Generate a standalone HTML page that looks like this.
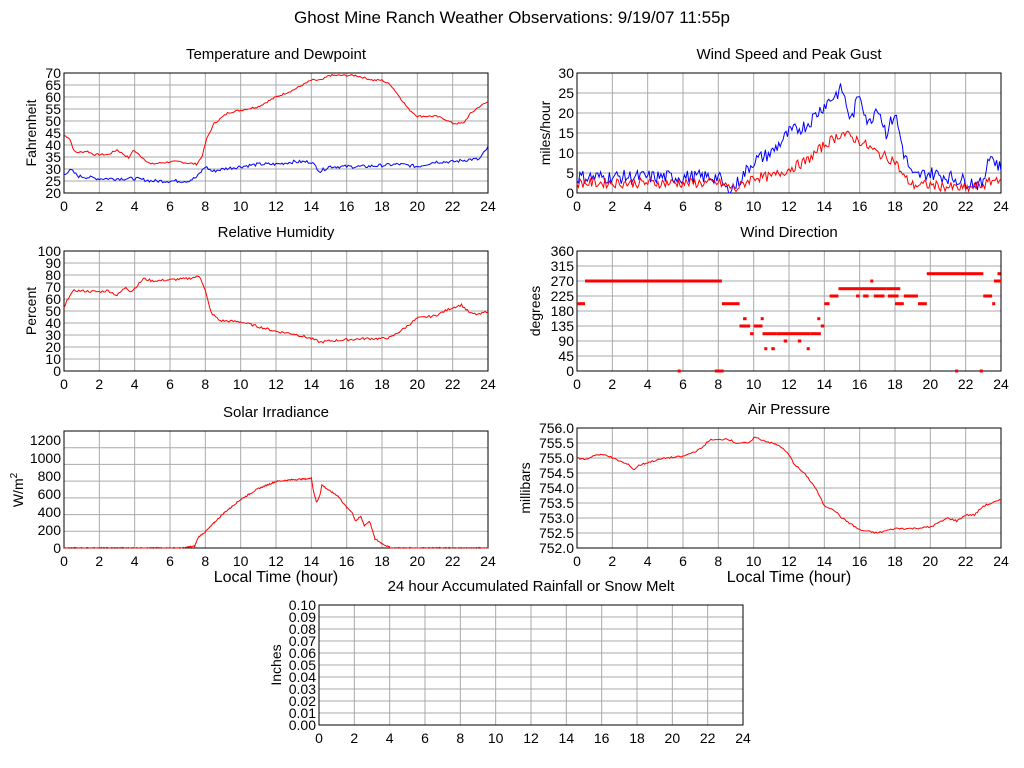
<!DOCTYPE html>
<html><head><meta charset="utf-8"><style>
html,body{margin:0;padding:0;background:#fff;}
svg{display:block;font-family:"Liberation Sans",sans-serif;}
</style></head><body>
<svg id="s" width="1024" height="768" xmlns="http://www.w3.org/2000/svg">
<text x="512" y="23" font-size="17" text-anchor="middle">Ghost Mine Ranch Weather Observations: 9/19/07 11:55p</text>
</svg>
<script>
var S=document.getElementById('s'),out='';
var seed=7;function rnd(){seed=(seed*9301+49297)%233280;return seed/233280;}
function panel(o){
 var g='';var W=o.x1-o.x0,H=o.y1-o.y0;
 for(var h=2;h<24;h+=2){var x=o.x0+W*h/24;g+='<line x1="'+x+'" y1="'+o.y0+'" x2="'+x+'" y2="'+o.y1+'" stroke="#aaa"/>';}
 var n=Math.round((o.vmax-o.vmin)/o.step);
 for(var i=0;i<=n;i++){var v=o.vmin+i*o.step;var y=o.y1-H*i/n;
  if(i>0&&i<n)g+='<line x1="'+o.x0+'" y1="'+y+'" x2="'+o.x1+'" y2="'+y+'" stroke="#aaa"/>';
  if(o.labels!==false)g+='<text x="'+(o.x0-3)+'" y="'+(y+5)+'" font-size="14" text-anchor="end">'+o.fmt(v)+'</text>';}
 for(var h=0;h<=24;h+=2){var x=o.x0+W*h/24;g+='<text x="'+x+'" y="'+(o.y1+18)+'" font-size="14" text-anchor="middle">'+h+'</text>';}
 g+='<rect x="'+o.x0+'" y="'+o.y0+'" width="'+W+'" height="'+H+'" fill="none" stroke="#000"/>';
 g+='<text x="'+((o.x0+o.x1)/2)+'" y="'+(o.y0-14)+'" font-size="15" text-anchor="middle">'+o.title+'</text>';
 var cy=(o.y0+o.y1)/2;g+='<text transform="translate('+o.yl+','+cy+') rotate(-90)" font-size="14" text-anchor="middle">'+o.ylab+'</text>';
 if(o.xl)g+='<text x="'+((o.x0+o.x1)/2)+'" y="'+(o.y1+34)+'" font-size="16" text-anchor="middle">Local Time (hour)</text>';
 out+=g;return o;}
function line(o,pts,col,noise,stepN){
 var W=o.x1-o.x0,H=o.y1-o.y0,p=[];var N=stepN||288;
 for(var k=0;k<=N;k++){var h=24*k/N;var j=0;while(j<pts.length-2&&pts[j+1][0]<h)j++;
  var a=pts[j],b=pts[j+1];var t=(b[0]==a[0])?0:(h-a[0])/(b[0]-a[0]);t=Math.max(0,Math.min(1,t));
  var v=a[1]+(b[1]-a[1])*t+(rnd()-0.5)*(noise||0);if(v<o.vmin)v=o.vmin;
  p.push((o.x0+W*h/24).toFixed(1)+','+(o.y1-H*(v-o.vmin)/(o.vmax-o.vmin)).toFixed(1));}
 out+='<polyline points="'+p.join(' ')+'" fill="none" stroke="'+col+'" stroke-width="1"/>';}
function f0(v){return v;}
var T=panel({x0:64,x1:488,y0:73,y1:193,vmin:20,vmax:70,step:5,fmt:f0,title:'Temperature and Dewpoint',ylab:'Fahrenheit',yl:36});
line(T,[[0,44],[0.3,43],[0.6,37],[1,37],[1.3,37.5],[1.7,36],[2.5,36],[3,38],[3.4,36],[3.7,34.5],[3.9,38],[4.9,32],[6,33],[6.5,33],[7.5,32],[7.8,35],[8.1,43],[8.5,49],[9.3,53.5],[10,54.5],[11,56],[12,60],[13,63],[14,67],[14.6,67],[15,69],[16.5,69],[17.5,67],[18,67],[18.5,65],[19,60],[19.5,55],[20,52],[21,52],[21.5,51],[22,49],[22.6,49],[23,53],[23.5,56],[24,58]],'#f00',0.8);
line(T,[[0,28],[0.4,29.5],[0.8,27],[2,26],[3,26],[4,26],[5,25],[7,25],[7.5,26.5],[8,31],[8.4,29],[9,30],[10,31],[11,32],[12,32],[13,33],[14,33],[14.5,29],[15,31],[17,31],[19,32],[20,31],[21,33],[22,33],[23,34],[23.5,34],[24,39]],'#00f',1.4);
var R=panel({x0:64,x1:488,y0:251,y1:371,vmin:0,vmax:100,step:10,fmt:f0,title:'Relative Humidity',ylab:'Percent',yl:36});
line(R,[[0,52],[0.3,63],[0.6,67],[2,66],[2.5,67],[3,63],[3.5,70],[3.8,66],[4.2,72],[4.5,77],[5,75],[6,76],[7,77],[7.7,79],[8,67],[8.3,49],[8.8,42],[10,41],[11,37],[12,33],[13,31],[14,27],[14.5,24],[15,25],[16,26],[17,27],[18,27],[18.5,28],[19.3,36],[20,44],[21,46],[22,53],[22.5,55],[23,48],[23.5,47],[24,50]],'#f00',2);
var So=panel({x0:64,x1:488,y0:431,y1:548,vmin:0,vmax:1300,step:200,fmt:f0,title:'Solar Irradiance',ylab:'',yl:22,xl:1,labels:false});
for(var v=0;v<=1200;v+=200){out+='<text x="61" y="'+(548-v*0.09+5)+'" font-size="14" text-anchor="end">'+v+'</text>';}
out+='<text transform="translate(23,490) rotate(-90)" font-size="14" text-anchor="middle">W/m<tspan dy="-6" font-size="10">2</tspan></text>';
line(So,[[0,0],[6.8,0],[7,10],[7.4,20],[7.6,120],[8,180],[9,380],[10,540],[11,660],[12,740],[13,760],[13.9,770],[14,790],[14.1,650],[14.3,500],[14.5,600],[14.6,700],[15,640],[15.5,580],[16,450],[16.3,400],[16.5,300],[16.8,350],[17,250],[17.3,300],[17.6,100],[18,50],[18.5,0],[24,0]],'#f00',15,600);
var Wd=panel({x0:577,x1:1001,y0:73,y1:193,vmin:0,vmax:30,step:5,fmt:f0,title:'Wind Speed and Peak Gust',ylab:'miles/hour',yl:550});
line(Wd,[[0,4],[8,4],[8.5,0.5],[9,2],[10,8],[11,10],[12,15],[13,17],[14,22],[15,26],[15.5,18],[16,25],[16.5,17],[17,22],[17.5,15],[18,20],[18.5,10],[19,4],[20,5],[21,4],[22,3],[23,2],[23.3,10],[24,6]],'#00f',3.5);
line(Wd,[[0,2.5],[8,2.5],[9,1],[10,4],[11,4],[12,6],[13,8],[14,12],[15,15],[16,13],[17,10],[18,8],[18.5,4],[19,2],[20,2],[22,1],[23,2],[24,4]],'#f00',2.5);
var D=panel({x0:577,x1:1001,y0:251,y1:371,vmin:0,vmax:360,step:45,fmt:f0,title:'Wind Direction',ylab:'degrees',yl:540});
function seg(h0,h1,d){var x=577+424*h0/24,w=Math.max(3,424*(h1-h0)/24),y=371-d/3-1.5;out+='<rect x="'+x.toFixed(1)+'" y="'+y.toFixed(1)+'" width="'+w.toFixed(1)+'" height="3" fill="#f00"/>';}
[[0,0.45,202],[0.45,8.2,270],[8.2,9.2,202],[9.2,9.6,135],[9.4,9.6,157],[9.6,9.8,135],[9.8,10,112],[10,10.5,135],[10.4,10.5,157],[10.5,11.3,112],[10.6,10.7,67],[11,11.2,67],[11.3,13.2,112],[11.7,11.9,90],[12.5,12.7,90],[13,13.1,67],[13.2,13.8,112],[13.6,13.7,157],[13.8,14,135],[14,14.3,202],[14.3,14.8,225],[14.8,16,247],[15.8,16,225],[16,17.5,247],[16.2,16.5,225],[16.6,16.7,270],[16.8,17.4,225],[17.5,18.3,247],[17.6,18.2,225],[18,18.5,202],[18.5,19.3,225],[19.3,19.8,202],[19.8,23,292],[23,23.5,225],[23.5,23.6,202],[23.6,24,270],[23.8,23.9,292],[7.8,8.3,0],[5.7,5.8,0],[21.4,21.5,0],[22.8,22.9,0]].forEach(function(a){seg(a[0],a[1],a[2]);});
var P=panel({x0:577,x1:1001,y0:428,y1:548,vmin:752,vmax:756,step:0.5,fmt:function(v){return v.toFixed(1);},title:'Air Pressure',ylab:'millibars',yl:530,xl:1});
line(P,[[0,755.0],[0.5,754.95],[1,755.1],[1.7,755.1],[2,755.0],[3,754.75],[3.2,754.6],[3.5,754.75],[4,754.85],[5,755.0],[6,755.05],[7,755.3],[7.5,755.6],[8,755.6],[8.5,755.65],[9,755.5],[9.8,755.5],[10,755.7],[10.5,755.6],[11,755.5],[11.5,755.4],[12,755.1],[12.3,754.8],[13,754.4],[13.5,754.0],[14,753.4],[14.5,753.3],[15,753.0],[15.5,752.8],[16,752.6],[17,752.5],[18,752.65],[19,752.65],[20,752.7],[21,753.0],[21.5,752.9],[22,753.1],[22.5,753.1],[23,753.4],[24,753.6]],'#f00',0.06);
var Rn=panel({x0:319,x1:743,y0:605,y1:725,vmin:0,vmax:0.1,step:0.01,fmt:function(v){return v.toFixed(2);},title:'24 hour Accumulated Rainfall or Snow Melt',ylab:'Inches',yl:281});
S.insertAdjacentHTML('beforeend',out);
</script>
</body></html>
